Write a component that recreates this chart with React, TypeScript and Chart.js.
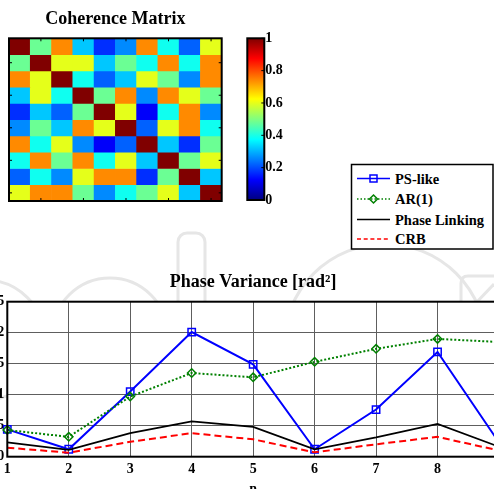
import React, { useEffect, useRef } from 'react';
import { Chart, registerables } from 'chart.js';

Chart.register(...registerables);

const SERIF = '"Liberation Serif", "Times New Roman", Times, serif';

// ---- Coherence matrix (symmetric, unit diagonal) ----
const heatColumns = ['1', '2', '3', '4', '5', '6', '7', '8', '9', '10'];
const coherenceRows: number[][] = [
  [1.0, 0.48, 0.74, 0.32, 0.17, 0.26, 0.74, 0.39, 0.22, 0.6],
  [0.48, 1.0, 0.6, 0.6, 0.32, 0.48, 0.39, 0.74, 0.39, 0.74],
  [0.74, 0.6, 1.0, 0.39, 0.22, 0.32, 0.6, 0.48, 0.26, 0.74],
  [0.32, 0.6, 0.39, 1.0, 0.48, 0.74, 0.26, 0.74, 0.6, 0.48],
  [0.17, 0.32, 0.22, 0.48, 1.0, 0.6, 0.12, 0.39, 0.74, 0.26],
  [0.26, 0.48, 0.32, 0.74, 0.6, 1.0, 0.22, 0.6, 0.74, 0.39],
  [0.74, 0.39, 0.6, 0.26, 0.12, 0.22, 1.0, 0.32, 0.17, 0.48],
  [0.39, 0.74, 0.48, 0.74, 0.39, 0.6, 0.32, 1.0, 0.48, 0.6],
  [0.22, 0.39, 0.26, 0.6, 0.74, 0.74, 0.17, 0.48, 1.0, 0.32],
  [0.6, 0.74, 0.74, 0.48, 0.26, 0.39, 0.48, 0.6, 0.32, 1.0],
];
const heatTickCells = [2, 4, 6, 8, 10];

// ---- Colorbar ----
const colorbarTickLabels = ['0', '0.2', '0.4', '0.6', '0.8', '1'];

// ---- Phase variance per sample ----
const samples = [1, 2, 3, 4, 5, 6, 7, 8, 9];
const psLike = [0.044, 0.012, 0.105, 0.201, 0.149, 0.012, 0.076, 0.169, 0.023];
const ar1 = [0.043, 0.032, 0.097, 0.135, 0.128, 0.153, 0.174, 0.19, 0.185];
const phaseLinking = [0.023, 0.011, 0.038, 0.057, 0.048, 0.012, 0.031, 0.053, 0.016];
const crb = [0.0145, 0.0065, 0.024, 0.038, 0.028, 0.007, 0.02, 0.032, 0.01];
const xTickLabels = ['1', '2', '3', '4', '5', '6', '7', '8', '9'];
const yTickLabels = ['0', '0.05', '0.1', '0.15', '0.2', '0.25'];

const legendEntries = ['PS-like', 'AR(1)', 'Phase Linking', 'CRB'];

const BLUE = '#0000ff';
const GREEN = '#008000';
const RED = '#ff0000';

function jet(v: number): string {
  const c = (t: number) => Math.round(255 * Math.max(0, Math.min(1, t)));
  return `rgb(${c(1.5 - Math.abs(4 * v - 3))},${c(1.5 - Math.abs(4 * v - 2))},${c(1.5 - Math.abs(4 * v - 1))})`;
}

// Box around the plot area, optional white fill and small inward ticks.
const framePlugin = {
  id: 'frame',
  beforeDraw(chart: any, _args: any, opts: any) {
    if (!opts.fill) return;
    const { ctx, chartArea: a } = chart;
    ctx.save();
    ctx.fillStyle = opts.fill;
    ctx.fillRect(a.left, a.top, a.width, a.height);
    ctx.restore();
  },
  afterDraw(chart: any, _args: any, opts: any) {
    const { ctx, chartArea: a } = chart;
    ctx.save();
    ctx.strokeStyle = '#000';
    const len = opts.tickLength || 0;
    if (len) {
      ctx.lineWidth = 1;
      ctx.beginPath();
      const xs: number[] = opts.xTickValues || [];
      xs.forEach((v) => {
        const px = chart.scales.x.getPixelForValue(v);
        ctx.moveTo(px, a.bottom);
        ctx.lineTo(px, a.bottom - len);
        ctx.moveTo(px, a.top);
        ctx.lineTo(px, a.top + len);
      });
      const ys: number[] = opts.yTickValues || [];
      ys.forEach((v) => {
        const py = chart.scales.y.getPixelForValue(v);
        if (opts.leftTicks !== false) {
          ctx.moveTo(a.left, py);
          ctx.lineTo(a.left + len, py);
        }
        ctx.moveTo(a.right, py);
        ctx.lineTo(a.right - len, py);
      });
      ctx.stroke();
    }
    ctx.lineWidth = opts.width || 2;
    ctx.strokeRect(a.left, a.top, a.width, a.height);
    ctx.restore();
  },
};

const boldFont = (size: number) => ({ family: SERIF, size, weight: 'bold' as const });

function HeatmapChart() {
  const ref = useRef<HTMLCanvasElement>(null);
  useEffect(() => {
    const chart = new Chart(ref.current as HTMLCanvasElement, {
      type: 'bar',
      data: {
        labels: heatColumns,
        datasets: coherenceRows.map((row, r) => ({
          label: `row ${r + 1}`,
          data: row.map(() => [r, r + 1]),
          backgroundColor: row.map(jet),
          borderWidth: 0,
          barPercentage: 1,
          categoryPercentage: 1,
          grouped: false,
        })),
      } as any,
      options: {
        responsive: false,
        animation: false,
        events: [],
        layout: { padding: { left: 9, right: 10.3, top: 0, bottom: 14 } },
        scales: {
          x: { display: false },
          y: { display: false, type: 'linear', min: 0, max: 10, reverse: true },
        },
        plugins: {
          legend: { display: false },
          tooltip: { enabled: false },
          title: {
            display: true,
            text: 'Coherence Matrix',
            color: '#000',
            font: boldFont(18),
            padding: { top: 9, bottom: 7.7 },
          },
          frame: {
            width: 2,
            tickLength: 3,
            xTickValues: heatTickCells.map((c) => c - 1),
            yTickValues: heatTickCells.map((c) => c - 0.5),
          },
        } as any,
      },
      plugins: [framePlugin],
    });
    return () => chart.destroy();
  }, []);
  return (
    <canvas ref={ref} width={232} height={215}
      style={{ position: 'absolute', left: 0, top: 0, width: 232, height: 215 }} />
  );
}

function ColorbarChart() {
  const ref = useRef<HTMLCanvasElement>(null);
  useEffect(() => {
    const chart = new Chart(ref.current as HTMLCanvasElement, {
      type: 'bar',
      data: {
        labels: [''],
        datasets: [
          {
            data: [[0, 1]],
            borderWidth: 0,
            barPercentage: 1,
            categoryPercentage: 1,
            backgroundColor: (context: any) => {
              const { ctx, chartArea } = context.chart;
              if (!chartArea) return jet(0.5);
              const g = ctx.createLinearGradient(0, chartArea.bottom, 0, chartArea.top);
              for (let i = 0; i <= 64; i++) g.addColorStop(i / 64, jet(i / 64));
              return g;
            },
          },
        ],
      } as any,
      options: {
        responsive: false,
        animation: false,
        events: [],
        layout: { padding: { left: 17.3, right: 1.7, top: 38.3, bottom: 15 } },
        scales: {
          x: { display: false },
          y: {
            position: 'right',
            min: 0,
            max: 1,
            ticks: {
              stepSize: 0.2,
              color: '#000',
              font: boldFont(14),
              padding: 1,
              callback: (_v: any, i: number) => colorbarTickLabels[i],
            },
            grid: { display: false, drawTicks: false },
            border: { display: false },
            afterFit: (s: any) => {
              s.width = 36;
            },
          },
        },
        plugins: {
          legend: { display: false },
          tooltip: { enabled: false },
          frame: {
            width: 2,
            tickLength: 3,
            leftTicks: false,
            yTickValues: [0, 0.2, 0.4, 0.6, 0.8, 1],
          },
        } as any,
      },
      plugins: [framePlugin],
    });
    return () => chart.destroy();
  }, []);
  return (
    <canvas ref={ref} width={72} height={215}
      style={{ position: 'absolute', left: 230, top: 0, width: 72, height: 215 }} />
  );
}

function VarianceChart() {
  const ref = useRef<HTMLCanvasElement>(null);
  useEffect(() => {
    const pts = (ys: number[]) => samples.map((x, i) => ({ x, y: ys[i] }));
    const chart = new Chart(ref.current as HTMLCanvasElement, {
      type: 'line',
      data: {
        datasets: [
          {
            label: legendEntries[0],
            data: pts(psLike),
            borderColor: BLUE,
            borderWidth: 2,
            pointStyle: 'rect',
            pointRadius: 5.2,
            pointBorderWidth: 1.5,
            pointBorderColor: BLUE,
            pointBackgroundColor: 'rgba(0,0,0,0)',
            tension: 0,
            order: 3,
            clip: 12,
          },
          {
            label: legendEntries[1],
            data: pts(ar1),
            borderColor: GREEN,
            borderWidth: 2,
            borderDash: [2, 2],
            pointStyle: 'rectRot',
            pointRadius: 4.2,
            pointBorderWidth: 1.5,
            pointBorderColor: GREEN,
            pointBackgroundColor: 'rgba(0,0,0,0)',
            tension: 0,
            order: 2,
            clip: 12,
          },
          {
            label: legendEntries[2],
            data: pts(phaseLinking),
            borderColor: '#000',
            borderWidth: 1.8,
            pointRadius: 0,
            tension: 0,
            order: 1,
            clip: 12,
          },
          {
            label: legendEntries[3],
            data: pts(crb),
            borderColor: RED,
            borderWidth: 2,
            borderDash: [7, 4],
            pointRadius: 0,
            tension: 0,
            order: 0,
            clip: 12,
          },
        ],
      } as any,
      options: {
        responsive: false,
        animation: false,
        events: [],
        layout: { padding: { left: 0, right: 10, top: 0, bottom: 0 } },
        scales: {
          x: {
            type: 'linear',
            min: 1,
            max: 9,
            ticks: {
              stepSize: 1,
              color: '#000',
              font: boldFont(14),
              padding: 4.4,
              callback: (_v: any, i: number) => xTickLabels[i],
            },
            grid: { color: '#5e5e5e', lineWidth: 1, drawTicks: false },
            border: { display: false },
            title: { display: true, text: 'n', color: '#000', font: boldFont(14), padding: { top: 0, bottom: 2 } },
            afterFit: (s: any) => {
              s.height = 43.3;
            },
          },
          y: {
            type: 'linear',
            min: 0,
            max: 0.25,
            ticks: {
              stepSize: 0.05,
              color: '#000',
              font: boldFont(14),
              padding: 3,
              callback: (_v: any, i: number) => yTickLabels[i],
            },
            grid: { color: '#5e5e5e', lineWidth: 1, drawTicks: false },
            border: { display: false },
            afterFit: (s: any) => {
              s.width = 30.3;
            },
          },
        },
        plugins: {
          legend: { display: false },
          tooltip: { enabled: false },
          title: {
            display: true,
            fullSize: false,
            text: 'Phase Variance [rad²]',
            color: '#000',
            font: boldFont(18),
            padding: { top: 11.2, bottom: 8.9 },
          },
          frame: { width: 2, fill: '#ffffff' },
        } as any,
      },
      plugins: [framePlugin],
    });
    return () => chart.destroy();
  }, []);
  return (
    <canvas ref={ref} width={532} height={240}
      style={{ position: 'absolute', left: -23, top: 260, width: 532, height: 240 }} />
  );
}

function Watermark() {
  const stroke = '#e6e6e6';
  return (
    <svg width={494} height={489} style={{ position: 'absolute', left: 0, top: 0 }}>
      <g fill="none" stroke={stroke} strokeWidth={3}>
        <circle cx={-15} cy={340} r={60} />
        <circle cx={110} cy={336} r={58} />
        <rect x={178} y={233} width={27} height={120} rx={9} />
        <circle cx={385} cy={345} r={101} />
        <path d="M461,310 V283 Q461,276 468,276 H494" />
        <path d="M474,305 L494,284" />
      </g>
    </svg>
  );
}

function Legend() {
  const rowY = [178.5, 199, 219.5, 239];
  const x0 = 357;
  const x1 = 390;
  const mid = (x0 + x1) / 2;
  const textStyle = { fontFamily: SERIF, fontWeight: 700, fontSize: 14.5 } as const;
  return (
    <svg width={494} height={489} style={{ position: 'absolute', left: 0, top: 0 }}>
      <rect x={351.5} y={164.5} width={141.5} height={84.5} fill="#fff" stroke="#000" strokeWidth={1.5} />
      <line x1={x0} y1={rowY[0]} x2={x1} y2={rowY[0]} stroke={BLUE} strokeWidth={1.5} />
      <rect x={mid - 3.5} y={rowY[0] - 3.5} width={7} height={7} fill="none" stroke={BLUE} strokeWidth={1.5} />
      <line x1={x0} y1={rowY[1]} x2={x1} y2={rowY[1]} stroke={GREEN} strokeWidth={1.5} strokeDasharray="1.5 2" />
      <path d={`M${mid},${rowY[1] - 4} L${mid + 4},${rowY[1]} L${mid},${rowY[1] + 4} L${mid - 4},${rowY[1]} Z`}
        fill="none" stroke={GREEN} strokeWidth={1.5} />
      <line x1={x0} y1={rowY[2]} x2={x1} y2={rowY[2]} stroke="#000" strokeWidth={1.5} />
      <line x1={x0} y1={rowY[3]} x2={x1} y2={rowY[3]} stroke={RED} strokeWidth={1.5} strokeDasharray="4 2.7" />
      {legendEntries.map((t, i) => (
        <text key={t} x={395} y={rowY[i]} dominantBaseline="central" style={textStyle} fill="#000">
          {t}
        </text>
      ))}
    </svg>
  );
}

export default function App() {
  return (
    <div
      style={{
        position: 'fixed',
        left: 0,
        top: 0,
        width: 494,
        height: 489,
        overflow: 'hidden',
        background: '#fff',
      }}
    >
      <Watermark />
      <HeatmapChart />
      <ColorbarChart />
      <VarianceChart />
      <Legend />
    </div>
  );
}
